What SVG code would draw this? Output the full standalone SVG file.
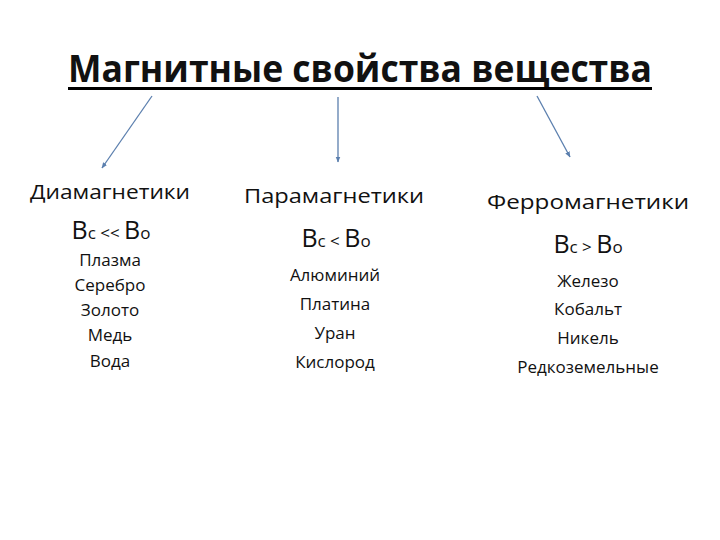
<svg xmlns="http://www.w3.org/2000/svg" width="720" height="540" viewBox="0 0 720 540">
<defs>
<marker id="ah" viewBox="0 0 10 10" refX="9" refY="5" markerWidth="6" markerHeight="6" orient="auto" markerUnits="userSpaceOnUse">
<path d="M0,1 L10,5 L0,9 z" fill="#5b7fae"/>
</marker>
<style>
text{font-family:"Open Sans","Liberation Sans",sans-serif;fill:#111;text-anchor:middle}
.title{font-size:38px;font-weight:bold}
.hd{font-size:20px}
.big{font-size:25px}
.sm{font-size:17px}
.item{font-size:17px}
.conn{stroke:#5b7fae;stroke-width:1.3;fill:none}
</style>
</defs>
<rect width="720" height="540" fill="#fff"/>
<g id="title">
<text class="title" x="360" y="82" textLength="584" lengthAdjust="spacingAndGlyphs">Магнитные свойства вещества</text>
<rect x="68" y="87" width="584" height="3" fill="#000"/>
</g>
<g id="connectors">
<line class="conn" x1="152" y1="96" x2="102" y2="168" marker-end="url(#ah)"/>
<line class="conn" x1="338" y1="97" x2="338" y2="162" marker-end="url(#ah)"/>
<line class="conn" x1="537" y1="96" x2="570" y2="157" marker-end="url(#ah)"/>
</g>
<g id="dia">
<text class="hd" x="110" y="199" textLength="160" lengthAdjust="spacingAndGlyphs">Диамагнетики</text>
<text x="111" y="239"><tspan class="big">B</tspan><tspan class="sm">c &lt;&lt; </tspan><tspan class="big">B</tspan><tspan class="sm">o</tspan></text>
<text class="item" x="110" y="266">Плазма</text>
<text class="item" x="110" y="291">Серебро</text>
<text class="item" x="110" y="316">Золото</text>
<text class="item" x="110" y="341">Медь</text>
<text class="item" x="110" y="367">Вода</text>
</g>
<g id="para">
<text class="hd" x="334" y="203" textLength="180" lengthAdjust="spacingAndGlyphs">Парамагнетики</text>
<text x="336" y="247"><tspan class="big">B</tspan><tspan class="sm">c &lt; </tspan><tspan class="big">B</tspan><tspan class="sm">o</tspan></text>
<text class="item" x="335" y="281">Алюминий</text>
<text class="item" x="335" y="310">Платина</text>
<text class="item" x="335" y="339">Уран</text>
<text class="item" x="335" y="368">Кислород</text>
</g>
<g id="ferro">
<text class="hd" x="588" y="209" textLength="202" lengthAdjust="spacingAndGlyphs">Ферромагнетики</text>
<text x="588" y="253"><tspan class="big">B</tspan><tspan class="sm">c &gt; </tspan><tspan class="big">B</tspan><tspan class="sm">o</tspan></text>
<text class="item" x="588" y="287">Железо</text>
<text class="item" x="588" y="315">Кобальт</text>
<text class="item" x="588" y="344">Никель</text>
<text class="item" x="588" y="373">Редкоземельные</text>
</g>
</svg>
